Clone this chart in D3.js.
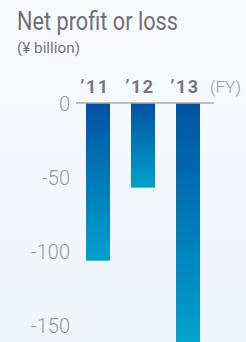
<!DOCTYPE html>
<html><head><meta charset="utf-8">
<script src="https://cdn.jsdelivr.net/npm/d3@7"></script>
<style>html,body{margin:0;padding:0;overflow:hidden;}</style>
</head><body>
<script>
const categories = ["’11", "’12", "’13"];
const values = [-106.3, -57.1, -161.5];
const tickValues = [0, -50, -100, -150];
const tickLabels = ["0", "-50", "-100", "-150"];

const W = 246, H = 342;
const svg = d3.select("body").append("svg").attr("width", W).attr("height", H);
const defs = svg.append("defs");
const bg = defs.append("linearGradient").attr("id","bg").attr("x1",0).attr("y1",0).attr("x2",0).attr("y2",1);
bg.append("stop").attr("offset","0%").attr("stop-color","#f8fafd");
bg.append("stop").attr("offset","100%").attr("stop-color","#f0f5fc");
const bar = defs.append("linearGradient").attr("id","bar").attr("x1",0).attr("y1",0).attr("x2",0).attr("y2",1);
bar.append("stop").attr("offset","0%").attr("stop-color","#0052a4");
bar.append("stop").attr("offset","100%").attr("stop-color","#00a2cc");

svg.append("rect").attr("width",W).attr("height",H).attr("fill","url(#bg)");

const font = "Roboto, 'Liberation Sans', sans-serif";

svg.append("text").attr("x",17).attr("y",30).text("Net profit or loss")
  .attr("font-family",font).attr("font-size",25).attr("fill","#707070")
  .attr("textLength",161).attr("lengthAdjust","spacingAndGlyphs");
svg.append("text").attr("x",17).attr("y",52.5).text("(¥ billion)")
  .attr("font-family",font).attr("font-size",14).attr("fill","#777")
  .attr("textLength",63).attr("lengthAdjust","spacingAndGlyphs");

const x = d3.scaleBand().domain(categories).range([75.5, 210.5]).paddingInner(0.4667).paddingOuter(0.2333);
const y = d3.scaleLinear().domain([0, -150]).range([103, 325.5]);

// bars
svg.append("g").selectAll("rect").data(values).join("rect")
  .attr("x",(d,i)=>x(categories[i]))
  .attr("width",x.bandwidth())
  .attr("y",y(0))
  .attr("height",d=>y(d)-y(0))
  .attr("fill","url(#bar)");

// zero line
svg.append("line").attr("x1",76).attr("x2",214).attr("y1",y(0)).attr("y2",y(0))
  .attr("stroke","#aaaaaa").attr("stroke-width",1.5);

// y axis
const yAxis = d3.axisLeft(y).tickValues(tickValues).tickSize(0).tickPadding(0)
  .tickFormat((d,i)=>tickLabels[i]);
const gy = svg.append("g").attr("transform","translate(70,0)").call(yAxis);
gy.select(".domain").remove();
gy.selectAll("text").attr("font-family",font).attr("font-weight",300).attr("font-size",20)
  .attr("fill","#999").attr("dy","0.36em");

// category labels
svg.append("g").selectAll("text").data(categories).join("text")
  .attr("x",d=>x(d)+x.bandwidth()/2-3)
  .attr("y",93)
  .attr("text-anchor","middle")
  .attr("font-family",font).attr("font-weight",700).attr("font-size",18)
  .attr("letter-spacing",1.5)
  .attr("fill","#777").text(d=>d);

svg.append("text").attr("x",241).attr("y",93).text("(FY)")
  .attr("text-anchor","end")
  .attr("font-family",font).attr("font-weight",300).attr("font-size",17).attr("fill","#999");
</script>
</body></html>
